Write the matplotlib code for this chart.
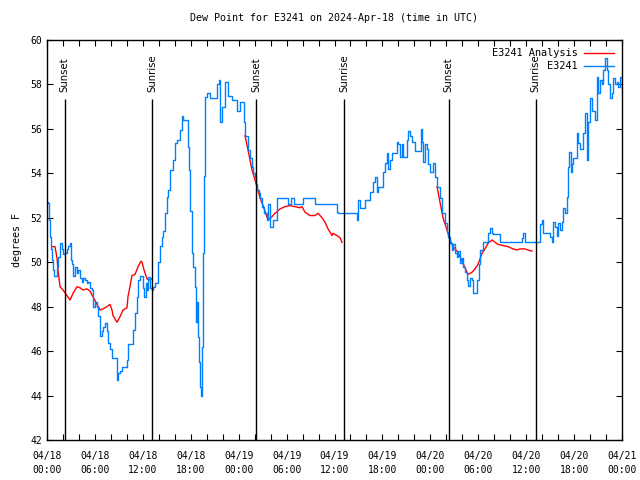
## dew point chart for station E3241, observations vs analysis
import numpy as np
import pandas as pd
from matplotlib import pyplot as plt
import matplotlib.dates as mdates

## hours after 2024-04-18 00:00 UTC and dew point (degrees F) for the station
obs_hours = [0.0, 0.13, 0.25, 0.38, 0.50, 0.63, 0.70, 0.88, 1.25, 1.38, 1.63, 1.88, 2.0, 2.25,
             2.5, 2.63, 2.88, 3.0, 3.13, 3.26, 3.51, 3.76, 3.88, 4.13, 4.38, 4.51, 4.76, 5.01,
             5.13, 5.38, 5.63, 5.76, 6.01, 6.26, 6.39, 6.64, 6.89, 7.01, 7.26, 7.51, 7.64, 7.89,
             8.14, 8.64, 8.77, 8.89, 9.14, 9.39, 9.77, 10.02, 10.14, 10.64, 10.77, 11.02, 11.27,
             11.40, 11.65, 11.90, 12.02, 12.15, 12.40, 12.52, 12.65, 12.90, 13.15, 13.27, 13.52,
             13.77, 13.90, 14.15, 14.40, 14.53, 14.78, 15.03, 15.15, 15.40, 15.65, 15.78, 16.03,
             16.28, 16.40, 16.65, 16.90, 17.03, 17.53, 17.66, 17.78, 17.91, 18.16, 18.28, 18.53,
             18.66, 18.78, 18.91, 19.03, 19.16, 19.28, 19.41, 19.53, 19.66, 19.78, 20.04, 20.41,
             21.04, 21.29, 21.54, 21.66, 21.91, 22.29, 22.66, 23.17, 23.54, 23.79, 24.17, 24.42,
             24.67, 24.79, 25.17, 25.42, 25.67, 25.80, 26.05, 26.17, 26.30, 26.55, 26.67, 26.92,
             27.17, 27.55, 27.67, 27.92, 28.30, 28.80, 30.05, 30.18, 30.55, 30.93, 32.06, 33.56,
             36.32, 36.44, 38.82, 38.94, 39.19, 39.82, 40.45, 40.82, 41.07, 41.32, 41.45, 42.07,
             42.33, 42.58, 42.70, 42.95, 43.20, 43.83, 43.95, 44.20, 44.45, 44.58, 45.08, 45.21,
             45.46, 45.71, 46.08, 46.83, 46.96, 47.08, 47.33, 47.58, 47.71, 47.96, 48.33, 48.59,
             48.84, 49.21, 49.46, 49.84, 50.09, 50.21, 50.46, 50.71, 50.84, 51.09, 51.34, 51.47,
             51.72, 51.97, 52.09, 52.34, 52.59, 52.72, 52.97, 53.22, 53.34, 53.84, 54.10, 54.22,
             54.60, 55.10, 55.22, 55.47, 55.72, 55.85, 56.72, 59.48, 59.61, 59.86, 61.73, 61.98,
             62.11, 62.99, 63.24, 63.36, 63.61, 63.86, 63.99, 64.24, 64.49, 64.61, 64.86, 65.11,
             65.24, 65.37, 65.62, 65.74, 65.87, 66.37, 66.49, 66.74, 67.12, 67.37, 67.62, 67.75,
             68.0, 68.25, 68.62, 68.87, 69.0, 69.25, 69.50, 69.62, 69.87, 70.12, 70.25, 70.50,
             70.75, 70.87, 71.13, 71.38, 71.50, 71.75, 72.0]
obs_dewpt = [52.7, 52.65, 51.9, 51.15, 50.6, 50.1, 49.65, 49.4, 49.8, 50.25, 50.85, 50.6, 50.35, 50.4,
             50.6, 50.75, 50.85, 50.1, 49.9, 49.4, 49.8, 49.5, 49.65, 49.3, 49.1, 49.3, 49.2, 49.05,
             49.1, 48.85, 48.75, 48.0, 48.2, 48.0, 47.6, 46.7, 46.9, 47.1, 47.25, 46.9, 46.35, 46.1,
             45.7, 45.7, 44.7, 45.0, 45.1, 45.3, 45.3, 45.6, 46.3, 46.3, 46.95, 47.7, 48.45,
             49.2, 49.4, 49.4, 48.85, 48.45, 49.05, 48.75, 49.35, 48.85, 48.75, 48.9, 49.05,
             49.05, 50.0, 50.75, 51.15, 51.4, 52.2, 52.95, 53.25, 54.15, 54.15, 54.6, 55.35,
             55.5, 55.5, 55.95, 56.6, 56.4, 56.4, 55.2, 54.15, 52.3, 50.4, 49.8, 48.9,
             47.3, 48.2, 46.65, 45.5, 44.4, 44.0, 46.2, 50.4, 53.9, 57.45, 57.6, 57.4,
             57.4, 58.0, 58.2, 56.3, 57.0, 58.1, 57.5, 57.3, 57.3, 56.8, 57.2, 57.2,
             56.3, 55.7, 55.05, 54.7, 54.3, 54.0, 53.85, 53.5, 53.25, 53.1, 52.9, 52.5,
             52.2, 51.9, 52.6, 51.6, 51.9, 52.9, 52.9, 52.6, 52.9, 52.6, 52.9, 52.6,
             52.25, 52.2, 51.9, 52.8, 52.45, 52.8, 53.15, 53.6, 53.85, 53.15, 53.4, 54.05,
             54.45, 54.9, 54.2, 54.6, 54.9, 55.4, 55.3, 54.75, 55.3, 54.75, 55.5, 55.9,
             55.7, 55.4, 55.0, 56.0, 55.4, 54.5, 55.3, 55.1, 54.4, 54.05, 54.45, 53.85,
             53.4, 52.9, 52.2, 51.75, 51.35, 51.15, 50.85, 50.55, 50.8, 50.4, 50.25, 50.5,
             49.95, 50.2, 49.8, 49.55, 49.2, 48.95, 49.3, 49.2, 48.6, 49.2, 49.9, 50.55,
             50.9, 50.9, 51.3, 51.55, 51.3, 51.25, 50.9, 51.1, 51.3, 50.9, 51.7, 51.9,
             51.3, 51.15, 50.9, 51.8, 51.6, 51.2, 51.75, 51.45, 51.8, 52.45, 52.2, 52.95,
             54.3, 54.95, 54.05, 54.4, 54.7, 55.8, 55.35, 55.1, 55.8, 56.7, 54.6, 56.3,
             57.4, 56.8, 56.4, 58.35, 57.6, 58.2, 58.0, 58.65, 59.2, 58.65, 58.0, 57.4,
             57.6, 58.3, 58.0, 58.1, 57.9, 58.35, 57.7]

## analysis, three separate pieces (one per night)
ana1_hours = [0.63, 1.0, 1.25, 1.38, 1.63, 2.0, 2.5, 2.88, 3.26, 3.76, 4.13, 4.51, 5.01, 5.38,
              5.76, 6.26, 6.64, 7.01, 7.51, 7.89, 8.14, 8.26, 8.77, 9.14, 9.52, 10.02, 10.14,
              10.39, 10.64, 11.02, 11.40, 11.77, 11.90, 12.15, 12.52, 12.77, 13.15]
ana1_dewpt = [50.7, 50.7, 50.2, 49.65, 48.9, 48.75, 48.5, 48.3, 48.6, 48.9, 48.85, 48.75, 48.8, 48.7,
              48.45, 48.1, 47.85, 47.9, 48.0, 48.1, 47.85, 47.6, 47.3, 47.55, 47.85, 47.95, 48.45,
              48.9, 49.4, 49.45, 49.8, 50.05, 50.0, 49.65, 49.25, 49.2, 49.25]
ana2_hours = [24.79, 25.17, 25.42, 25.67, 25.80, 26.30, 26.67, 27.05, 27.29, 27.67, 28.17, 28.55,
              29.18, 29.80, 30.43, 31.06, 31.68, 31.93, 32.31, 32.93, 33.56, 33.94, 34.44, 34.81,
              35.19, 35.69, 35.81, 36.31, 36.69, 36.94]
ana2_dewpt = [55.7, 55.05, 54.6, 54.15, 54.0, 53.4, 52.9, 52.55, 52.3, 51.9, 52.05, 52.2,
              52.4, 52.5, 52.55, 52.5, 52.45, 52.5, 52.25, 52.1, 52.1, 52.2, 52.0, 51.8,
              51.5, 51.2, 51.3, 51.2, 51.1, 50.9]
ana3_hours = [48.84, 49.21, 49.59, 50.09, 50.46, 50.84, 51.34, 51.72, 52.09, 52.59, 52.72, 53.22,
              53.59, 53.97, 54.47, 54.85, 55.22, 55.72, 56.10, 56.48, 57.10, 57.73, 58.36, 58.86,
              59.23, 59.86, 60.23, 60.73]
ana3_dewpt = [53.4, 52.7, 52.0, 51.45, 51.0, 50.7, 50.5, 50.25, 49.95, 49.55, 49.45, 49.55,
              49.7, 49.9, 50.4, 50.6, 50.85, 51.0, 50.9, 50.8, 50.75, 50.7, 50.6, 50.55,
              50.6, 50.6, 50.55, 50.5]

## sunset / sunrise times (hours after start)
sun_hours = [2.2, 13.18, 26.23, 37.2, 50.3, 61.2]
sun_labels = ["Sunset", "Sunrise", "Sunset", "Sunrise", "Sunset", "Sunrise"]

start = pd.Timestamp("2024-04-18 00:00")
def to_time(h):
    return start + pd.to_timedelta(np.array(h), unit="h")

mono = "DejaVu Sans Mono"
fig = plt.figure(figsize=(6.4, 4.8), dpi=100)
ax = fig.add_axes([47/640, 40/480, 575/640, 400/480])

## analysis first so it sits on the legend first row
ax.plot(to_time(ana1_hours), ana1_dewpt, color="red", lw=1.0, label="E3241 Analysis")
ax.plot(to_time(ana2_hours), ana2_dewpt, color="red", lw=1.0)
ax.plot(to_time(ana3_hours), ana3_dewpt, color="red", lw=1.0)
ax.plot(to_time(obs_hours), obs_dewpt, color="#0080ff", lw=1.0, drawstyle="steps-post",
        label="E3241")

## sunrise / sunset markers
for h, lab in zip(sun_hours, sun_labels):
    t = to_time([h])[0]
    ax.vlines(t, 42, 57.35, color="black", lw=1.0)
    ax.text(t, 57.65, lab, rotation=90, ha="center", va="bottom",
            fontsize=7.3, family="DejaVu Sans")

ax.set_xlim(start, start + pd.Timedelta(hours=72))
ax.set_ylim(42, 60)
ax.set_yticks(np.arange(42, 61, 2))
ax.xaxis.set_major_locator(mdates.HourLocator(byhour=[0, 6, 12, 18]))
ax.xaxis.set_minor_locator(mdates.HourLocator(byhour=range(0, 24, 2)))
ax.xaxis.set_major_formatter(mdates.DateFormatter("%m/%d\n%H:%M"))
ax.tick_params(which="both", direction="in", top=True, right=True, length=4, width=0.8,
               labelsize=7)
ax.tick_params(axis="x", pad=8)
for lab in ax.get_xticklabels() + ax.get_yticklabels():
    lab.set_family(mono)
for lab in ax.get_xticklabels():
    lab.set_linespacing(1.5)
for s in ax.spines.values():
    s.set_linewidth(1.0)

ax.set_ylabel("degrees F", family=mono, fontsize=7.2, labelpad=6)
ax.set_title("Dew Point for E3241 on 2024-Apr-18 (time in UTC)", family=mono,
             fontsize=7.2, pad=14)
ax.legend(loc="upper right", frameon=False, markerfirst=False, handlelength=2.9,
          prop={"family": mono, "size": 7.4}, labelspacing=0.3, borderaxespad=0.4,
          handletextpad=0.6)

plt.savefig("out.png", dpi=100)
